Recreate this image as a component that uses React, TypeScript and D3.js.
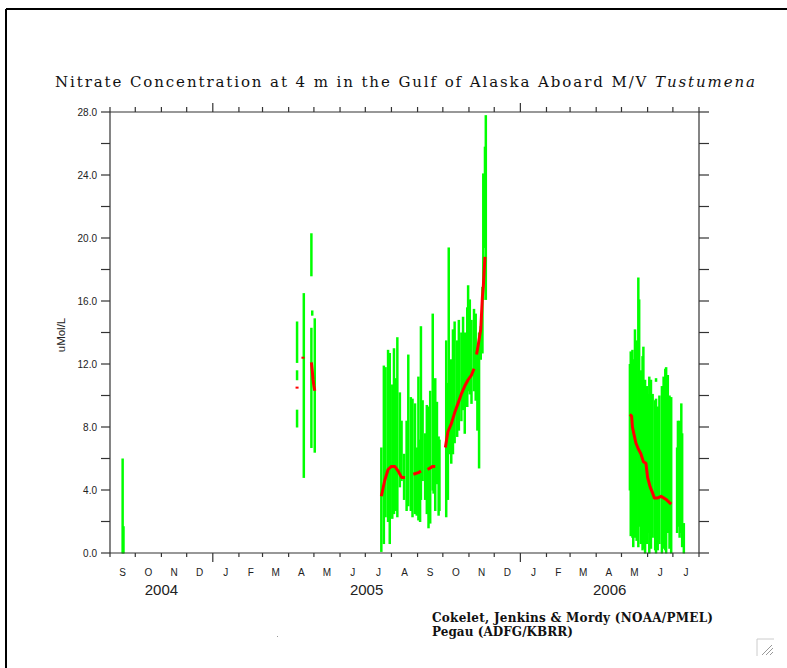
import * as d3 from "d3";

// ---- data ----
const monthLetters = ["S", "O", "N", "D", "J", "F", "M", "A", "M", "J", "J", "A", "S", "O", "N", "D", "J", "F", "M", "A", "M", "J", "J"];
const yearLabels = ["2004", "2005", "2006"];
const yMinorTicks = [0, 2, 4, 6, 8, 10, 12, 14, 16, 18, 20, 22, 24, 26, 28];
const yLabelTicks = [0, 4, 8, 12, 16, 20, 24, 28];

// green bars: [date, low, high] in uMol/L
const greenSep04: [string, number, number][] = [
  ["2004-09-16", 0, 6.0],
  ["2004-09-17", 0, 1.7],
];

const greenApr05: [string, number, number][] = [
  ["2005-04-11", 12.1, 14.7], ["2005-04-11", 11.0, 11.6], ["2005-04-11", 8.0, 9.1],
  ["2005-04-19", 4.8, 16.5],
  ["2005-04-28", 17.6, 20.3], ["2005-04-28", 6.7, 14.3],
  ["2005-04-29", 15.1, 15.4],
  ["2005-05-02", 6.4, 14.9],
];

const greenSummer05: [string, number, number][] = [
  ["2005-07-20", 0.1, 6.7], ["2005-07-23", 0.6, 11.9], ["2005-07-25", 2.3, 11.8],
  ["2005-07-28", 2.0, 12.9], ["2005-07-30", 0.6, 12.7], ["2005-08-02", 2.2, 10.7],
  ["2005-08-04", 2.5, 13.0], ["2005-08-06", 2.7, 11.1], ["2005-08-08", 2.3, 13.7],
  ["2005-08-11", 4.2, 10.2], ["2005-08-13", 4.6, 8.4], ["2005-08-16", 3.4, 6.3],
  ["2005-08-19", 2.7, 8.4], ["2005-08-21", 3.0, 12.6], ["2005-08-24", 2.7, 9.9],
  ["2005-08-26", 2.3, 9.8], ["2005-08-29", 2.5, 9.5], ["2005-08-31", 2.4, 6.7],
  ["2005-09-02", 2.1, 11.2], ["2005-09-04", 2.0, 7.2], ["2005-09-05", 3.4, 14.4],
  ["2005-09-07", 4.6, 9.7], ["2005-09-10", 3.4, 7.6], ["2005-09-12", 2.5, 9.4],
  ["2005-09-14", 1.6, 9.3], ["2005-09-16", 1.9, 10.3], ["2005-09-19", 4.0, 15.2],
  ["2005-09-20", 3.8, 10.3], ["2005-09-22", 2.7, 11.1], ["2005-09-24", 4.4, 9.6],
  ["2005-09-26", 2.4, 7.4], ["2005-09-27", 2.7, 7.2],
  ["2005-10-05", 2.3, 13.5], ["2005-10-07", 3.4, 10.8], ["2005-10-08", 6.3, 19.4],
  ["2005-10-11", 5.7, 12.3], ["2005-10-13", 6.3, 14.2], ["2005-10-15", 7.0, 14.7],
  ["2005-10-18", 7.4, 13.5], ["2005-10-20", 7.8, 14.8], ["2005-10-23", 8.4, 14.0],
  ["2005-10-25", 9.1, 15.0], ["2005-10-27", 7.6, 14.0], ["2005-10-30", 9.3, 15.6],
  ["2005-10-31", 10.3, 17.0], ["2005-11-02", 10.1, 16.1], ["2005-11-04", 9.5, 14.8],
  ["2005-11-07", 10.3, 15.5], ["2005-11-09", 9.7, 15.2], ["2005-11-11", 7.8, 12.7],
  ["2005-11-13", 5.4, 14.0], ["2005-11-15", 12.3, 14.4], ["2005-11-17", 12.7, 16.9],
  ["2005-11-18", 16.1, 24.1], ["2005-11-20", 19.4, 25.8], ["2005-11-21", 16.1, 27.8],
];

const greenSpring06: [string, number, number][] = [
  ["2006-05-11", 4.0, 12.0], ["2006-05-12", 1.1, 12.8], ["2006-05-14", 1.0, 12.9],
  ["2006-05-15", 0.4, 12.3], ["2006-05-17", 1.0, 14.2], ["2006-05-19", 0.8, 13.5],
  ["2006-05-21", 0.4, 17.5], ["2006-05-22", 1.7, 16.1], ["2006-05-24", 0.6, 11.6],
  ["2006-05-26", 0.2, 12.5], ["2006-05-27", 0.3, 13.1], ["2006-05-29", 0.0, 11.0],
  ["2006-05-31", 0.6, 10.6], ["2006-06-02", 1.3, 10.1], ["2006-06-03", 0.0, 11.2],
  ["2006-06-05", 0.3, 11.0], ["2006-06-07", 1.0, 10.1], ["2006-06-10", 0.2, 9.7],
  ["2006-06-11", 0.0, 9.8], ["2006-06-11", 10.9, 11.1], ["2006-06-13", 0.2, 9.3],
  ["2006-06-15", 0.6, 10.0], ["2006-06-18", 0.0, 10.6], ["2006-06-20", 0.3, 11.2],
  ["2006-06-22", 0.2, 11.7], ["2006-06-23", 0.0, 11.8], ["2006-06-25", 1.3, 11.3],
  ["2006-06-27", 0.3, 10.0], ["2006-06-29", 0.0, 9.9],
  ["2006-07-06", 1.3, 6.7], ["2006-07-07", 1.7, 8.4], ["2006-07-09", 1.0, 8.4],
  ["2006-07-11", 1.3, 9.5], ["2006-07-12", 0.4, 7.6], ["2006-07-14", 0.0, 1.9],
];

// red smoothed values, split where the line breaks
const redApr05: [string, number][][] = [
  [["2005-04-11", 10.5]],
  [["2005-04-18", 12.4]],
  [["2005-04-28", 12.1], ["2005-04-29", 11.6], ["2005-04-30", 11.0], ["2005-05-01", 10.6], ["2005-05-02", 10.3]],
];

const redSummer05: [string, number][][] = [
  [["2005-07-20", 3.6], ["2005-07-24", 4.6], ["2005-07-28", 5.3], ["2005-08-01", 5.5], ["2005-08-05", 5.5],
   ["2005-08-09", 5.2], ["2005-08-13", 4.8], ["2005-08-17", 4.8]],
  [["2005-08-27", 5.0], ["2005-09-02", 5.1], ["2005-09-05", 5.2]],
  [["2005-09-13", 5.3], ["2005-09-19", 5.5], ["2005-09-22", 5.5]],
  [["2005-10-04", 6.7], ["2005-10-07", 7.7], ["2005-10-11", 8.2], ["2005-10-15", 8.9], ["2005-10-19", 9.5],
   ["2005-10-23", 10.1], ["2005-10-27", 10.6], ["2005-10-31", 11.0], ["2005-11-04", 11.3], ["2005-11-07", 11.7]],
  [["2005-11-10", 12.6], ["2005-11-12", 13.2], ["2005-11-15", 14.2], ["2005-11-17", 16.3], ["2005-11-18", 16.9],
   ["2005-11-20", 18.8]],
];

const redSpring06: [string, number][][] = [
  [["2006-05-11", 8.8], ["2006-05-13", 8.7], ["2006-05-14", 8.0], ["2006-05-16", 7.5], ["2006-05-18", 7.0],
   ["2006-05-21", 6.6], ["2006-05-24", 6.3], ["2006-05-27", 5.8], ["2006-05-30", 5.7], ["2006-06-01", 4.8],
   ["2006-06-04", 4.2], ["2006-06-07", 3.8], ["2006-06-09", 3.5], ["2006-06-13", 3.5], ["2006-06-17", 3.6],
   ["2006-06-20", 3.5], ["2006-06-23", 3.4], ["2006-06-27", 3.2], ["2006-06-29", 3.1]],
];

const parse = d3.utcParse("%Y-%m-%d");
const t0 = parse("2004-09-01")!;
const t1 = parse("2006-08-01")!;

const axisCol = "#333";
const sans = "'Liberation Sans', Arial, sans-serif";
const serif = "'DejaVu Serif', 'Liberation Serif', serif";

export default function App() {
  const left = 110, right = 699, top = 112, bottom = 553;

  const x = d3.scaleUtc().domain([t0, t1]).range([left, right]);
  const y = d3.scaleLinear().domain([0, 28]).range([bottom, top]);

  const months = d3.utcMonths(t0, d3.utcMonth.offset(t1, 1));
  const years = d3.utcYears(t0, t1);
  const yearStarts = [t0, ...years];

  const greens = [...greenSep04, ...greenApr05, ...greenSummer05, ...greenSpring06];
  const reds = [...redApr05, ...redSummer05, ...redSpring06];

  const line = d3.line<[string, number]>()
    .x(d => x(parse(d[0])!))
    .y(d => y(d[1]));

  return (
    <svg width={787} height={668} style={{ position: "absolute", left: 0, top: 0, background: "#fff" }}>
      {/* frame */}
      <line x1={6} y1={9} x2={787} y2={9} stroke="#000" strokeWidth={2} />
      <line x1={6} y1={9} x2={6} y2={668} stroke="#000" strokeWidth={2} />

      <text x={405} y={87} textAnchor="middle" fontFamily={serif} fontSize={15}
        textLength={700} lengthAdjust="spacing" fill="#111">
        Nitrate Concentration at 4 m in the Gulf of Alaska Aboard M/V <tspan fontStyle="italic">Tustumena</tspan>
      </text>

      {/* data */}
      <g stroke="#00ff00" strokeWidth={2.5}>
        {greens.map((d, i) => {
          const xx = x(parse(d[0])!);
          return <line key={i} x1={xx} x2={xx} y1={y(d[1]) + 0.5} y2={y(d[2])} />;
        })}
      </g>
      <g>
        {reds.map((seg, i) =>
          seg.length > 1 ? (
            <path key={i} d={line(seg)!} fill="none" stroke="#ff0000" strokeWidth={3} strokeLinejoin="round" />
          ) : (
            <rect key={i} x={x(parse(seg[0][0])!) - 1.5} y={y(seg[0][1]) - 1} width={3} height={2} fill="#ff0000" />
          )
        )}
      </g>

      {/* axes box */}
      <g stroke={axisCol} strokeWidth={1.2} fill="none">
        <line x1={left} x2={left} y1={top} y2={bottom} />
        <line x1={right} x2={right} y1={top} y2={bottom} />
        <line x1={left} x2={right} y1={top} y2={top} />
        <line x1={left} x2={right} y1={bottom} y2={bottom} />
        {yMinorTicks.map(v => (
          <g key={v}>
            <line x1={left - 9} x2={left} y1={y(v)} y2={y(v)} />
            <line x1={right} x2={right + 10} y1={y(v)} y2={y(v)} />
          </g>
        ))}
        {months.map((m, i) => {
          const isYear = m.getUTCMonth() === 0;
          const xx = x(m);
          return (
            <g key={i}>
              <line x1={xx} x2={xx} y1={bottom} y2={bottom + (isYear ? 9 : 4)} />
              <line x1={xx} x2={xx} y1={top} y2={top - (isYear ? 9 : 5)} />
            </g>
          );
        })}
      </g>

      {/* y labels */}
      <g fontFamily={sans} fontSize={10} fill="#222" textAnchor="end">
        {yLabelTicks.map(v => (
          <text key={v} x={97} y={y(v) + 3.5}>{v.toFixed(1)}</text>
        ))}
      </g>
      <text transform="translate(65,335) rotate(-90)" textAnchor="middle" fontFamily={sans} fontSize={11.5} fill="#222">
        uMol/L
      </text>

      {/* month letters */}
      <g fontFamily={sans} fontSize={10} fill="#222" textAnchor="middle">
        {months.slice(0, monthLetters.length).map((m, i) => {
          const cx = (x(m) + x(d3.utcMonth.offset(m, 1))) / 2;
          return <text key={i} x={cx} y={576}>{monthLetters[i]}</text>;
        })}
      </g>

      {/* years */}
      <g fontFamily={sans} fontSize={15} fill="#222" textAnchor="middle">
        {yearLabels.map((lab, i) => {
          const a = yearStarts[i];
          const b = i + 1 < yearStarts.length ? yearStarts[i + 1] : t1;
          return <text key={lab} x={(x(a) + x(b)) / 2} y={595}>{lab}</text>;
        })}
      </g>

      {/* credits */}
      <g fontFamily={serif} fontSize={12} fontWeight="bold" fill="#111">
        <text x={432} y={622} textLength={281} lengthAdjust="spacing">Cokelet, Jenkins &amp; Mordy (NOAA/PMEL)</text>
        <text x={432} y={636} textLength={141} lengthAdjust="spacing">Pegau (ADFG/KBRR)</text>
      </g>
      <rect x={277} y={636} width={1} height={1} fill="#999" />

      {/* resize grip */}
      <g stroke="#ccc" strokeWidth={1} fill="none">
        <polyline points="757,656 757,639 774,639" />
      </g>
      <g stroke="#999" strokeWidth={1}>
        <line x1={762} y1={655} x2={772} y2={645} />
        <line x1={766} y1={655} x2={773} y2={648} />
        <line x1={770} y1={655} x2={773} y2={652} />
      </g>
    </svg>
  );
}
